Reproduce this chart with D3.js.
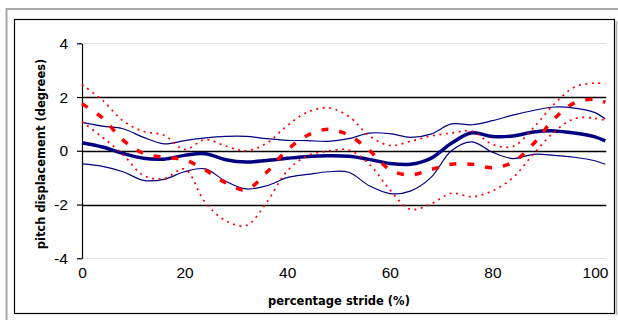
<!DOCTYPE html>
<html>
<head>
<meta charset="utf-8">
<script src="https://cdn.jsdelivr.net/npm/d3@7"></script>
<style>
  body { margin: 0; background: #fff; }
  svg { display: block; }
</style>
</head>
<body>
<svg id="chart"></svg>
<script>
// stride positions (%) and pitch displacement (degrees)
const stride = [0, 4, 8, 12, 16, 20, 24, 28, 32, 36, 40, 44, 48, 52, 56, 60, 64, 68, 72, 76, 80, 84, 88, 92, 96, 100, 102];

const blueMean  = [0.30, 0.14, -0.10, -0.28, -0.31, -0.17, -0.11, -0.33, -0.42, -0.36, -0.28, -0.21, -0.18, -0.20, -0.32, -0.47, -0.50, -0.28, 0.28, 0.67, 0.53, 0.55, 0.70, 0.74, 0.66, 0.52, 0.37];
const blueUpper = [1.06, 0.92, 0.82, 0.50, 0.26, 0.38, 0.48, 0.54, 0.54, 0.45, 0.39, 0.38, 0.35, 0.45, 0.66, 0.64, 0.50, 0.62, 1.00, 0.97, 1.12, 1.33, 1.50, 1.63, 1.59, 1.42, 1.18];
const blueLower = [-0.49, -0.58, -0.78, -1.10, -1.06, -0.78, -0.67, -1.13, -1.42, -1.30, -1.00, -0.88, -0.78, -0.80, -1.30, -1.59, -1.50, -1.00, 0.00, 0.33, -0.05, -0.29, -0.13, -0.17, -0.24, -0.37, -0.50];

const redMean  = [1.75, 1.22, 0.40, -0.10, -0.24, -0.34, -0.71, -1.19, -1.45, -0.80, 0.03, 0.58, 0.80, 0.58, 0.02, -0.70, -0.90, -0.70, -0.50, -0.50, -0.63, -0.42, 0.26, 1.18, 1.78, 1.92, 1.80];
const redUpper = [2.46, 1.88, 1.12, 0.72, 0.58, 0.05, 0.42, 0.18, 0.00, 0.28, 0.94, 1.44, 1.60, 1.28, 0.56, 0.20, 0.35, 0.55, 0.66, 0.73, 0.24, 0.16, 0.86, 1.73, 2.37, 2.52, 2.49];
const redLower = [1.08, 0.50, -0.14, -0.92, -1.03, -0.68, -1.92, -2.60, -2.78, -1.92, -0.75, -0.18, -0.01, 0.03, -0.50, -1.45, -2.18, -1.98, -1.58, -1.71, -1.49, -1.00, -0.12, 0.69, 1.20, 1.21, 1.13];

const yTicks = [4, 2, 0, -2, -4];
const yTickLabels = ['4', '2', '0', '-2', '-4'];
const xTicks = [0, 20, 40, 60, 80, 100];
const xTickLabels = ['0', '20', '40', '60', '80', '100'];

const W = 618, H = 320;
const svg = d3.select('#chart').attr('width', W).attr('height', H);

// outer grey frame and inner black chart border
svg.append('path')
  .attr('d', `M6.5,${H} V9 H${W}`)
  .attr('fill', 'none')
  .attr('stroke', '#a8a8a8')
  .attr('stroke-width', 2);

svg.append('line')
  .attr('x1', 616.5).attr('x2', 616.5).attr('y1', 21).attr('y2', 315)
  .attr('stroke', '#b0b0b0').attr('stroke-width', 1.5);

svg.append('rect')
  .attr('x', 14.5).attr('y', 19.5)
  .attr('width', 600).attr('height', 294)
  .attr('fill', '#fff')
  .attr('stroke', '#000')
  .attr('stroke-width', 1.2);

const x = d3.scaleLinear().domain([0, 100]).range([82, 595]);
const y = d3.scaleLinear().domain([-4, 4]).range([258.3, 43.3]);
const xEnd = x(102.2);

// gridlines
svg.append('g')
  .selectAll('line')
  .data(yTicks)
  .enter().append('line')
  .attr('x1', x(0)).attr('x2', xEnd)
  .attr('y1', d => Math.round(y(d)) + 0.5)
  .attr('y2', d => Math.round(y(d)) + 0.5)
  .attr('stroke', d => (Math.abs(d) === 4 ? '#e4e4e4' : '#000'))
  .attr('stroke-width', d => (Math.abs(d) === 4 ? 1 : 1.3));

// y axis
const yAxis = d3.axisLeft(y)
  .tickValues(yTicks)
  .tickFormat((d, i) => yTickLabels[i])
  .tickSize(5)
  .tickSizeOuter(0)
  .tickPadding(9);

const gy = svg.append('g')
  .attr('transform', `translate(${x(0)},0)`)
  .call(yAxis);
gy.selectAll('text')
  .style('font-family', '"Liberation Sans", Arial, sans-serif')
  .style('font-size', '15.5px')
  .attr('fill', '#000');
gy.selectAll('line, path').attr('stroke', '#000').attr('stroke-width', 1.2);

// x axis: labels only
const xAxis = d3.axisBottom(x)
  .tickValues(xTicks)
  .tickFormat((d, i) => xTickLabels[i])
  .tickSize(0)
  .tickPadding(9);

const gx = svg.append('g')
  .attr('transform', `translate(0,${y(-4)})`)
  .call(xAxis);
gx.select('.domain').remove();
gx.selectAll('text')
  .style('font-family', '"Liberation Sans", Arial, sans-serif')
  .style('font-size', '15.5px')
  .attr('fill', '#000');

// series
const line = d3.line()
  .x((d, i) => x(stride[i]))
  .y(d => y(d))
  .curve(d3.curveCatmullRom.alpha(0.5));

const series = [
  { values: blueUpper, color: '#000080', width: 1.2, dash: null },
  { values: blueLower, color: '#000080', width: 1.2, dash: null },
  { values: blueMean,  color: '#000080', width: 3.5, dash: null },
  { values: redUpper,  color: '#ff0000', width: 1.7, dash: '2,4.5' },
  { values: redLower,  color: '#ff0000', width: 1.7, dash: '2,4.5' },
  { values: redMean,   color: '#ff0000', width: 3.5, dash: '7,11' }
];

svg.append('g')
  .selectAll('path')
  .data(series)
  .enter().append('path')
  .attr('d', d => line(d.values))
  .attr('fill', 'none')
  .attr('stroke', d => d.color)
  .attr('stroke-width', d => d.width)
  .attr('stroke-dasharray', d => d.dash);

// axis titles
svg.append('text')
  .attr('transform', 'translate(45,154) rotate(-90)')
  .attr('text-anchor', 'middle')
  .style('font-family', '"DejaVu Sans", Verdana, sans-serif')
  .style('font-weight', 'bold')
  .style('font-size', '11.5px')
  .text('pitch displacement (degrees)');

svg.append('text')
  .attr('x', 339)
  .attr('y', 305)
  .attr('text-anchor', 'middle')
  .style('font-family', '"DejaVu Sans", Verdana, sans-serif')
  .style('font-weight', 'bold')
  .style('font-size', '11.5px')
  .text('percentage stride (%)');
</script>
</body>
</html>
